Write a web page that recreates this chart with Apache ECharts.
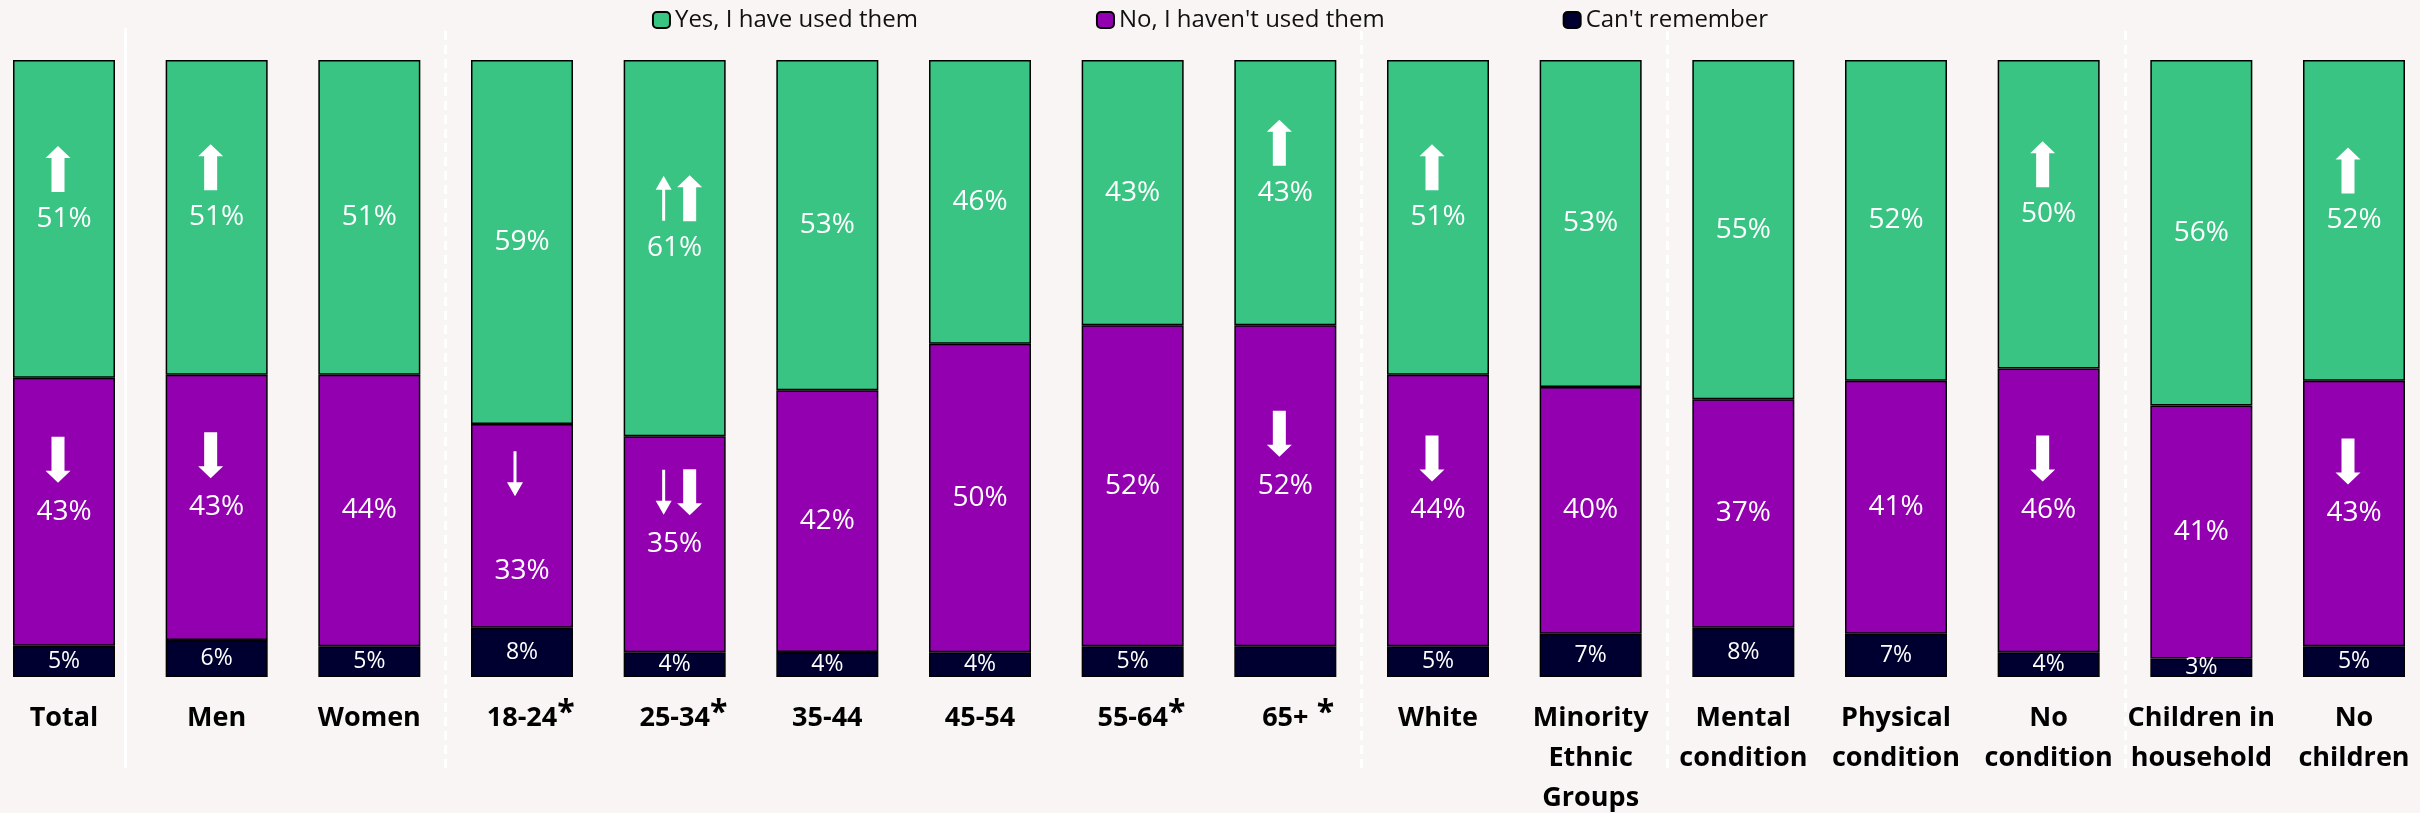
<!DOCTYPE html>
<html>
<head>
<meta charset="utf-8">
<script src="https://cdn.jsdelivr.net/npm/echarts@6/dist/echarts.min.js"></script>
<style>
  html, body { margin: 0; padding: 0; background: #f8f5f4; }
  #main { width: 2420px; height: 813px; }
</style>
</head>
<body>
<div id="main"></div>
<script>
// categories and values
var categories = ['Total', 'Men', 'Women', '18-24', '25-34', '35-44', '45-54', '55-64', '65+', 'White',
    'Minority\nEthnic\nGroups', 'Mental\ncondition', 'Physical\ncondition', 'No\ncondition',
    'Children in\nhousehold', 'No\nchildren'];
var used = [51, 51, 51, 59, 61, 53, 46, 43, 43, 51, 53, 55, 52, 50, 56, 52];
var notUsed = [43, 43, 44, 33, 35, 42, 50, 52, 52, 44, 40, 37, 41, 46, 41, 43];
var cantRemember = [5, 6, 5, 8, 4, 4, 4, 5, 5, 5, 7, 8, 7, 4, 3, 5];
var hiddenLabel = ['65+'];           // the dark segment of 65+ has no number
var starred = ['18-24', '25-34', '55-64', '65+'];

// significance arrows
var upThick = ['Total', 'Men', '25-34', '65+', 'White', 'No\ncondition', 'No\nchildren'];
var downThick = ['Total', 'Men', '25-34', '65+', 'White', 'No\ncondition', 'No\nchildren'];
var upThin = ['25-34'];
var downThin = ['18-24', '25-34'];

// group separators (category index units)
var separators = [0.4, 2.5, 8.5, 10.5, 13.5];

var names = ['Yes, I have used them', "No, I haven't used them", "Can't remember"];
var colors = ['#39c484', '#9300b0', '#000030'];

var sums = categories.map(function (c, i) { return used[i] + notUsed[i] + cantRemember[i]; });
function share(arr, i) { return arr[i] / sums[i] * 100; }

function barData(arr, small) {
    return arr.map(function (v, i) {
        var item = { value: share(arr, i), raw: v };
        if (small && hiddenLabel.indexOf(categories[i]) >= 0) item.label = { show: false };
        if (arr === notUsed && categories[i] === '18-24') item.label = { offset: [0, 45] };
        return item;
    });
}

function barSeries(name, arr, color, small) {
    return {
        name: name,
        type: 'bar',
        stack: 'all',
        barWidth: 102,
        clip: false,
        data: barData(arr, small),
        itemStyle: { color: color, borderColor: '#000', borderWidth: 1.5 },
        label: {
            show: true,
            position: 'inside',
            color: '#fff',
            fontFamily: 'Open Sans',
            fontSize: small ? 23 : 28,
            formatter: function (p) { return p.data.raw + '%'; }
        }
    };
}

var thickUp = 'path://M12.5 0 L25 12 L19 12 L19 46 L6 46 L6 12 L0 12 Z';
var thickDown = 'path://M12.5 46 L25 34 L19 34 L19 0 L6 0 L6 34 L0 34 Z';
var thinUp = 'path://M8 0 L16 14 L9.5 14 L9.5 45 L6.5 45 L6.5 14 L0 14 Z';
var thinDown = 'path://M8 45 L16 31 L9.5 31 L9.5 0 L6.5 0 L6.5 31 L0 31 Z';

function arrowSeries(list, path, size, isUp, thin) {
    return {
        type: 'scatter',
        z: 5,
        silent: true,
        clip: false,
        symbol: path,
        symbolSize: size,
        itemStyle: { color: '#fff', opacity: 1 },
        data: list.map(function (c) {
            var i = categories.indexOf(c);
            var y = isUp ? 100 - share(used, i) / 2
                         : share(cantRemember, i) + share(notUsed, i) / 2;
            var pair = (isUp ? upThin : downThin).indexOf(c) >= 0 && (isUp ? upThick : downThick).indexOf(c) >= 0;
            var dx = pair ? (thin ? -11 : 15) : (thin ? -7 : -6);
            return { value: [i, y], symbolOffset: [dx, isUp ? -50 : -52] };
        })
    };
}

var chart = echarts.init(document.getElementById('main'));
var option = {
    backgroundColor: '#f8f5f4',
    animation: false,
    legend: {
        top: 3,
        left: 'center',
        itemWidth: 17,
        itemHeight: 16,
        itemGap: 178,
        data: names,
        itemStyle: { borderColor: '#000', borderWidth: 2 },
        textStyle: { fontFamily: 'Open Sans', fontSize: 24, color: '#111' }
    },
    grid: [
        { left: 64, right: 66, top: 60, bottom: 136, outerBoundsMode: 'none', containLabel: false },
        { left: 64, right: 66, top: 28, bottom: 45, outerBoundsMode: 'none', containLabel: false }
    ],
    xAxis: [{
        type: 'category',
        data: categories,
        boundaryGap: false,
        axisLine: { show: false },
        axisTick: { show: false },
        splitLine: { show: false },
        axisLabel: {
            interval: 0,
            margin: 21,
            fontFamily: 'Open Sans',
            fontWeight: 'bold',
            fontSize: 27,
            lineHeight: 40,
            color: '#000',
            formatter: function (v) {
                if (v === '65+') return '{p| *}65+{s| *}';
                if (starred.indexOf(v) >= 0) return '{p|*}' + v + '{s|*}';
                return v;
            },
            rich: {
                s: { fontFamily: 'Open Sans', fontWeight: 'bold', fontSize: 32, lineHeight: 40, color: '#000', verticalAlign: 'top' },
                p: { fontFamily: 'Open Sans', fontWeight: 'bold', fontSize: 32, lineHeight: 40, color: 'transparent', verticalAlign: 'top' }
            }
        }
    }, {
        type: 'value',
        gridIndex: 1,
        min: 0,
        max: 15,
        show: false
    }],
    yAxis: [{
        type: 'value',
        min: 0,
        max: 100,
        show: false
    }, {
        type: 'value',
        gridIndex: 1,
        min: 0,
        max: 1,
        show: false
    }],
    series: [
        barSeries(names[2], cantRemember, colors[2], true),
        barSeries(names[1], notUsed, colors[1], false),
        barSeries(names[0], used, colors[0], false),
        arrowSeries(upThick, thickUp, [25, 46], true, false),
        arrowSeries(downThick, thickDown, [25, 46], false, false),
        arrowSeries(upThin, thinUp, [16, 45], true, true),
        arrowSeries(downThin, thinDown, [16, 45], false, true),
        {
            type: 'line',
            xAxisIndex: 1,
            yAxisIndex: 1,
            data: [],
            silent: true,
            markLine: {
                silent: true,
                symbol: 'none',
                label: { show: false },
                data: separators.map(function (x, k) {
                    return {
                        xAxis: x,
                        lineStyle: { color: '#ffffff', width: 3, type: k === 0 ? 'solid' : [9, 5] }
                    };
                })
            }
        }
    ]
};
chart.setOption(option);
</script>
</body>
</html>
